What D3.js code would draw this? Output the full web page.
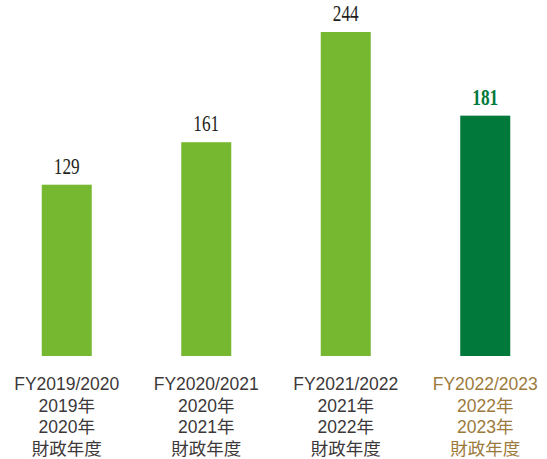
<!DOCTYPE html>
<html>
<head>
<meta charset="utf-8">
<script src="https://cdn.jsdelivr.net/npm/d3@7"></script>
<style>
  body { margin: 0; background: #fff; }
  svg { display: block; }
</style>
</head>
<body>
<svg id="chart" width="547" height="459"></svg>
<script>
// chart data
var categories = ["FY2019/2020", "FY2020/2021", "FY2021/2022", "FY2022/2023"];
var values = [129, 161, 244, 181];
var labelLines = [
  ["FY2019/2020", "2019年", "2020年", "財政年度"],
  ["FY2020/2021", "2020年", "2021年", "財政年度"],
  ["FY2021/2022", "2021年", "2022年", "財政年度"],
  ["FY2022/2023", "2022年", "2023年", "財政年度"]
];
var highlight = [false, false, false, true];

var svg = d3.select('#chart');
var baseY = 356;

var x = d3.scaleBand()
  .domain(categories)
  .range([-3, 555])
  .paddingInner(0.6416)
  .paddingOuter(0.3208);

var y = d3.scaleLinear()
  .domain([0, 244])
  .range([baseY, 32]);

svg.selectAll('.bar')
  .data(values)
  .enter()
  .append('rect')
  .attr('class', 'bar')
  .attr('x', function (d, i) { return x(categories[i]); })
  .attr('y', function (d) { return y(d); })
  .attr('width', x.bandwidth())
  .attr('height', function (d) { return baseY - y(d); })
  .attr('fill', function (d, i) { return highlight[i] ? '#00793a' : '#76b82f'; });

// value labels, condensed serif look
svg.selectAll('.val')
  .data(values)
  .enter()
  .append('text')
  .attr('class', 'val')
  .attr('transform', function (d, i) {
    return 'translate(' + (x(categories[i]) + x.bandwidth() / 2) + ',' + (y(d) - 11) + ') scale(0.72,1)';
  })
  .attr('text-anchor', 'middle')
  .style('font-family', '"Liberation Serif", "DejaVu Serif", serif')
  .style('font-size', '24px')
  .style('font-weight', function (d, i) { return highlight[i] ? 'bold' : 'normal'; })
  .attr('fill', function (d, i) { return highlight[i] ? '#00793a' : '#231f20'; })
  .text(function (d) { return d; });

// category labels
var catText = svg.selectAll('.cat')
  .data(categories)
  .enter()
  .append('text')
  .attr('class', 'cat')
  .attr('text-anchor', 'middle')
  .style('font-family', '"Liberation Sans", Arial, "Noto Sans CJK TC", sans-serif')
  .style('font-size', '17.5px')
  .attr('fill', function (d, i) { return highlight[i] ? '#9c7a3c' : '#3d3839'; });

catText.selectAll('tspan')
  .data(function (d, i) { return labelLines[i].map(function (t) { return { t: t, c: d }; }); })
  .enter()
  .append('tspan')
  .attr('x', function (d) { return x(d.c) + x.bandwidth() / 2; })
  .attr('y', function (d, j) { return 390 + j * 21.5; })
  .text(function (d) { return d.t; });
</script>
</body>
</html>
